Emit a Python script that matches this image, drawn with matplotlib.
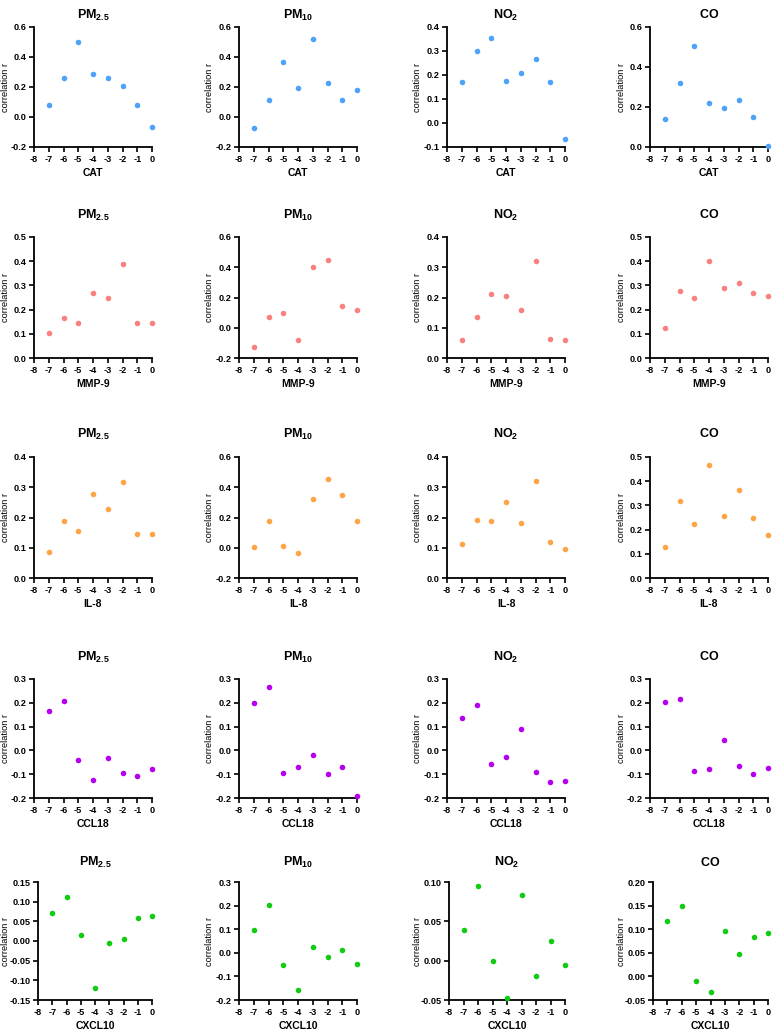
import matplotlib
matplotlib.use("Agg")
import matplotlib.pyplot as plt
from matplotlib.ticker import MultipleLocator, FormatStrFormatter

plt.rcParams['font.family'] = ['Liberation Sans', 'DejaVu Sans']
plt.rcParams['mathtext.fontset'] = 'custom'
plt.rcParams['mathtext.rm'] = 'Liberation Sans'
plt.rcParams['mathtext.bf'] = 'Liberation Sans:bold'
plt.rcParams['axes.unicode_minus'] = False

lags = [-7, -6, -5, -4, -3, -2, -1, 0]
markers = ['CAT', 'MMP-9', 'IL-8', 'CCL18', 'CXCL10']
pollutants = [r'$\mathbf{PM_{2.5}}$', r'$\mathbf{PM_{10}}$', r'$\mathbf{NO_2}$', r'$\mathbf{CO}$']

# correlation r per lag (-7..0)
cat_pm25 = [0.08, 0.26, 0.50, 0.29, 0.26, 0.205, 0.08, -0.065]
cat_pm10 = [-0.07, 0.115, 0.365, 0.195, 0.52, 0.23, 0.115, 0.18]
cat_no2 = [0.17, 0.30, 0.355, 0.175, 0.21, 0.265, 0.17, -0.065]
cat_co = [0.14, 0.32, 0.505, 0.22, 0.195, 0.235, 0.15, 0.005]

mmp9_pm25 = [0.105, 0.167, 0.144, 0.27, 0.25, 0.388, 0.143, 0.143]
mmp9_pm10 = [-0.13, 0.068, 0.095, -0.083, 0.40, 0.45, 0.142, 0.12]
mmp9_no2 = [0.06, 0.135, 0.213, 0.205, 0.16, 0.322, 0.063, 0.06]
mmp9_co = [0.125, 0.275, 0.248, 0.402, 0.288, 0.31, 0.267, 0.257]

il8_pm25 = [0.085, 0.19, 0.155, 0.279, 0.228, 0.316, 0.147, 0.147]
il8_pm10 = [0.008, 0.175, 0.012, -0.035, 0.325, 0.455, 0.35, 0.175]
il8_no2 = [0.113, 0.193, 0.187, 0.252, 0.181, 0.32, 0.118, 0.097]
il8_co = [0.127, 0.317, 0.225, 0.467, 0.257, 0.365, 0.25, 0.176]

ccl18_pm25 = [0.167, 0.209, -0.042, -0.124, -0.031, -0.097, -0.108, -0.077]
ccl18_pm10 = [0.20, 0.265, -0.093, -0.068, -0.021, -0.101, -0.071, -0.19]
ccl18_no2 = [0.135, 0.192, -0.059, -0.028, 0.092, -0.091, -0.132, -0.128]
ccl18_co = [0.204, 0.217, -0.087, -0.079, 0.044, -0.066, -0.099, -0.075]

cxcl10_pm25 = [0.072, 0.113, 0.015, -0.12, -0.006, 0.006, 0.058, 0.064]
cxcl10_pm10 = [0.096, 0.203, -0.051, -0.157, 0.023, -0.017, 0.011, -0.049]
cxcl10_no2 = [0.039, 0.095, 0.0, -0.047, 0.083, -0.019, 0.025, -0.006]
cxcl10_co = [0.118, 0.15, -0.009, -0.033, 0.097, 0.048, 0.083, 0.093]

data = [
    [cat_pm25, cat_pm10, cat_no2, cat_co],
    [mmp9_pm25, mmp9_pm10, mmp9_no2, mmp9_co],
    [il8_pm25, il8_pm10, il8_no2, il8_co],
    [ccl18_pm25, ccl18_pm10, ccl18_no2, ccl18_co],
    [cxcl10_pm25, cxcl10_pm10, cxcl10_no2, cxcl10_co],
]

# y axis (min, max, step, decimals)
yaxes = [
    [(-0.2, 0.6, 0.2, 1), (-0.2, 0.6, 0.2, 1), (-0.1, 0.4, 0.1, 1), (0.0, 0.6, 0.2, 1)],
    [(0.0, 0.5, 0.1, 1), (-0.2, 0.6, 0.2, 1), (0.0, 0.4, 0.1, 1), (0.0, 0.5, 0.1, 1)],
    [(0.0, 0.4, 0.1, 1), (-0.2, 0.6, 0.2, 1), (0.0, 0.4, 0.1, 1), (0.0, 0.5, 0.1, 1)],
    [(-0.2, 0.3, 0.1, 1), (-0.2, 0.3, 0.1, 1), (-0.2, 0.3, 0.1, 1), (-0.2, 0.3, 0.1, 1)],
    [(-0.15, 0.15, 0.05, 2), (-0.2, 0.3, 0.1, 1), (-0.05, 0.10, 0.05, 2), (-0.05, 0.20, 0.05, 2)],
]
colors = ['#4da3f7', '#fa8080', '#ffa445', '#b400ee', '#11cc11']

W, H = 773, 1031
fig = plt.figure(figsize=(W / 100, H / 100), dpi=100)

row_tops = [27, 237, 457, 679, 882]
row_h = [120, 121, 121, 119, 118]
title_y = [15, 215, 434, 657, 862]
col_lefts = [[34, 239, 447, 650]] * 4 + [[38, 239, 449, 653]]
ylab_x = [6, 209, 417, 621]
aw = 118

for i in range(5):
    for j in range(4):
        l = col_lefts[i][j]
        t = row_tops[i]
        ah = row_h[i]
        w = aw - (l - col_lefts[0][j])
        ax = fig.add_axes([l / W, 1 - (t + ah) / H, w / W, ah / H])
        lo, hi, step, dec = yaxes[i][j]
        ax.scatter(lags, data[i][j], s=16, color=colors[i], zorder=3, clip_on=False, linewidths=0)
        ax.set_xlim(-8, 0)
        ax.set_ylim(lo, hi)
        ax.xaxis.set_major_locator(MultipleLocator(1))
        ax.yaxis.set_major_locator(MultipleLocator(step))
        ax.yaxis.set_major_formatter(FormatStrFormatter('%.' + str(dec) + 'f'))
        ax.spines['top'].set_visible(False)
        ax.spines['right'].set_visible(False)
        ax.spines['left'].set_linewidth(1.3)
        ax.spines['bottom'].set_linewidth(1.3)
        ax.tick_params(direction='out', length=3.5, width=1.2, labelsize=6.6, pad=2)
        for lab in ax.get_xticklabels() + ax.get_yticklabels():
            lab.set_fontweight('bold')
        ax.set_xlabel(markers[i], fontsize=7.5, fontweight='bold', labelpad=3)
        ax.set_ylabel('correlation r', fontsize=6.7, va='center')
        ax.yaxis.set_label_coords((ylab_x[j] - l) / w, 0.5)
        fig.text((l + w / 2) / W, 1 - title_y[i] / H, pollutants[j], fontsize=9,
                 ha='center', va='center')

fig.savefig('out.png', dpi=100)
